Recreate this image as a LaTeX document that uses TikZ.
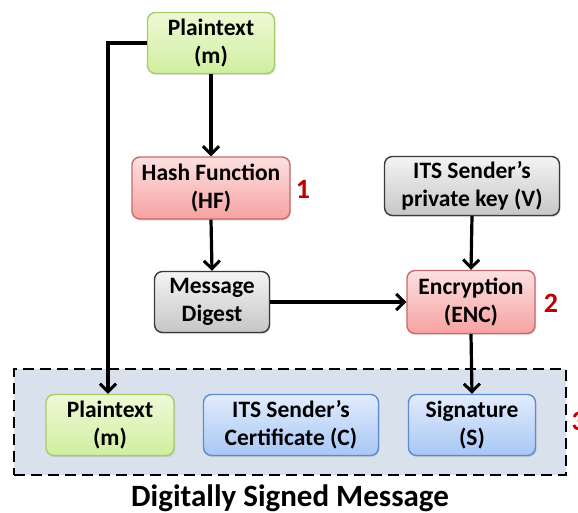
\documentclass[tikz,border=0pt]{standalone}
\usepackage{fontspec}
\setmainfont{Carlito}
\usetikzlibrary{arrows.meta,shadows}
\definecolor{numred}{HTML}{C00000}
\definecolor{pkgfill}{HTML}{D9E1EC}
\definecolor{gEdge}{HTML}{A8CC6A}\definecolor{gTop}{HTML}{EEF9D6}\definecolor{gBot}{HTML}{D0EFA0}
\definecolor{rEdge}{HTML}{C86A6A}\definecolor{rTop}{HTML}{FCE0E0}\definecolor{rBot}{HTML}{F7A2A2}
\definecolor{kEdge}{HTML}{3A3A3A}\definecolor{kTop}{HTML}{F4F4F4}\definecolor{kBot}{HTML}{C6C6C6}
\definecolor{bEdge}{HTML}{5E8CCF}\definecolor{bTop}{HTML}{E2ECFD}\definecolor{bBot}{HTML}{A8C7F5}
\tikzset{
  box/.style={rounded corners=8pt, align=center, font=\bfseries\fontsize{23.5}{28}\selectfont,
    line width=1.4pt, inner sep=0pt, drop shadow={shadow xshift=1pt, shadow yshift=-1.5pt, opacity=0.25}},
  greenbox/.style={box, draw=gEdge, top color=gTop, bottom color=gBot},
  redbox/.style={box, draw=rEdge, top color=rTop, bottom color=rBot},
  graybox/.style={box, draw=kEdge, top color=kTop, bottom color=kBot},
  bluebox/.style={box, draw=bEdge, top color=bTop, bottom color=bBot},
  conn/.style={line width=3.2pt, -{Straight Barb[length=8pt,width=16pt,line width=3pt]}},
  num/.style={font=\bfseries\fontsize{28}{28}\selectfont, text=numred},
}
\begin{document}
\begin{tikzpicture}[x=1pt,y=-1pt]
\useasboundingbox (0,0) rectangle (578,513);
% package frame
\node[draw, dash pattern=on 11pt off 6pt, line width=2.8pt, fill=pkgfill,
  minimum width=552pt, minimum height=106pt, inner sep=0pt] (pkg) at (290,422) {};
\node[num, anchor=west] (n3) at (568,421) {3};
\node[font=\bfseries\fontsize{31}{31}\selectfont] (title) at (290,498) {Digitally Signed Message};
% nodes
\node[greenbox, minimum width=127pt, minimum height=61pt] (pt) at (211,43) {Plaintext\\(m)};
\node[redbox, minimum width=158pt, minimum height=62pt] (hf) at (211,188) {Hash Function\\(HF)};
\node[num] (n1) at (303,189) {1};
\node[graybox, minimum width=175pt, minimum height=59pt] (key) at (472,186) {ITS Sender’s\\private key (V)};
\node[graybox, minimum width=115pt, minimum height=61pt] (md) at (212,302) {Message\\Digest};
\node[redbox, minimum width=128pt, minimum height=63pt] (enc) at (471,302) {Encryption\\(ENC)};
\node[num] (n2) at (551,303) {2};
\node[greenbox, minimum width=128pt, minimum height=61pt] (pt2) at (110,425) {Plaintext\\(m)};
\node[bluebox, minimum width=175pt, minimum height=61pt] (cert) at (291,425) {ITS Sender’s\\Certificate (C)};
\node[bluebox, minimum width=127pt, minimum height=61pt] (sig) at (472,425) {Signature\\(S)};
% connectors
\coordinate (bend) at (108,43);
\draw[conn] (pt.south) -- (hf.north);
\draw[conn] (hf.south) -- (md.north);
\draw[conn] (md.east) -- (enc.west);
\draw[conn] (key.south) -- (enc.north);
\draw[conn] (enc.south) -- (sig.north);
\draw[conn] (pt.west) -- (bend) -- (bend |- pt2.north);
\end{tikzpicture}
\end{document}
